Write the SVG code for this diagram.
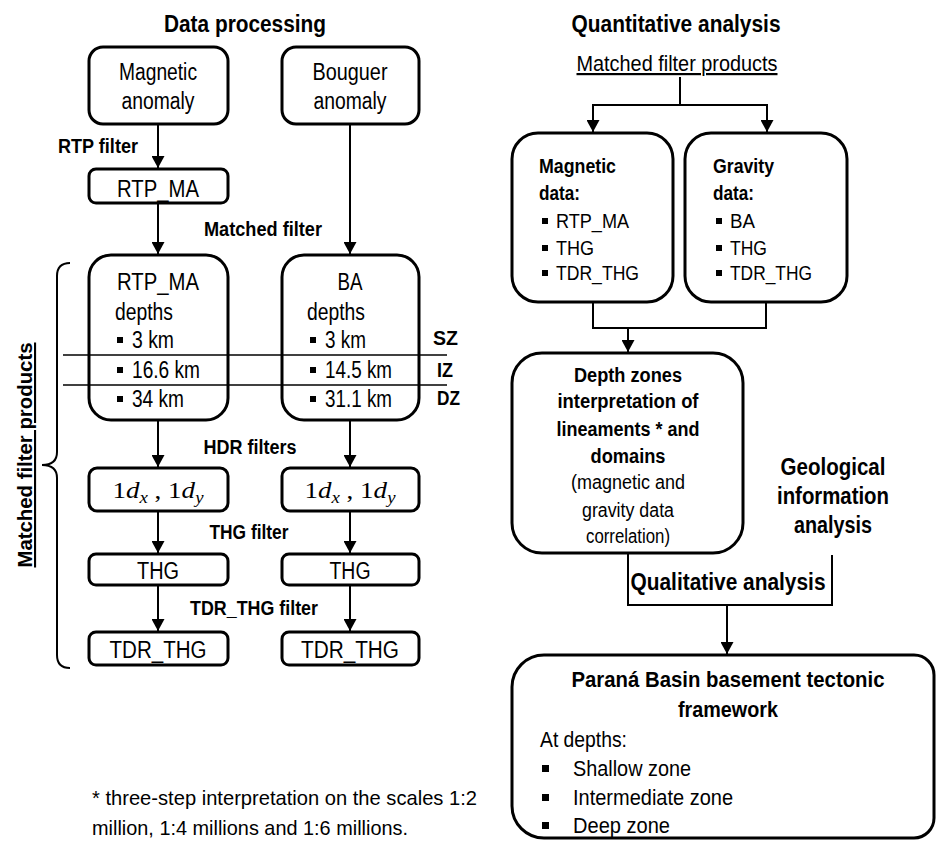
<svg xmlns="http://www.w3.org/2000/svg" xmlns:xlink="http://www.w3.org/1999/xlink" width="936" height="841" viewBox="0 0 936 841">
<defs>
<style>
.box{fill:none;stroke:#000;stroke-width:3}
.con{fill:none;stroke:#000;stroke-width:2}
.zone{fill:none;stroke:#000;stroke-width:1.5}
text{font-family:"Liberation Sans",Arial,sans-serif;fill:#000;font-size:23px}
.b{font-weight:bold}
.m{text-anchor:middle}
.s20{font-size:20px}
.s22{font-size:22px}
.s21{font-size:21px}
.u{text-decoration:underline}
.math{font-family:"Liberation Serif","Times New Roman",serif}
</style>
<marker id="ah" markerUnits="userSpaceOnUse" markerWidth="13" markerHeight="13" refX="12" refY="6.5" orient="auto">
<path d="M0,0 L12,6.5 L0,13 z" fill="#000"/>
</marker>
<rect id="bl" width="6" height="6" fill="#000"/>
<rect id="bl2" width="7" height="7" fill="#000"/>
</defs>
<rect width="936" height="841" fill="#fff"/>

<!-- titles and labels -->
<g id="labels">
<text class="b m" x="245" y="32" textLength="162" lengthAdjust="spacingAndGlyphs">Data processing</text>
<text class="b m" x="676" y="32" textLength="209" lengthAdjust="spacingAndGlyphs">Quantitative analysis</text>
<text class="m s22 u" x="677" y="71" textLength="201" lengthAdjust="spacingAndGlyphs">Matched filter products</text>
<text class="b m s20" x="98" y="153" textLength="80" lengthAdjust="spacingAndGlyphs">RTP filter</text>
<text class="b m s20" x="263" y="236" textLength="118" lengthAdjust="spacingAndGlyphs">Matched filter</text>
<text class="b m s20" x="250" y="454" textLength="93" lengthAdjust="spacingAndGlyphs">HDR filters</text>
<text class="b m s20" x="249" y="539" textLength="79" lengthAdjust="spacingAndGlyphs">THG filter</text>
<text class="b m s20" x="254" y="615" textLength="128" lengthAdjust="spacingAndGlyphs">TDR_THG filter</text>
<text class="b s20" x="433" y="345" textLength="25" lengthAdjust="spacingAndGlyphs">SZ</text>
<text class="b s20" x="437" y="377" textLength="16" lengthAdjust="spacingAndGlyphs">IZ</text>
<text class="b s20" x="437" y="405" textLength="23" lengthAdjust="spacingAndGlyphs">DZ</text>
<text class="b m s21 u" transform="translate(32,455) rotate(-90)" textLength="225" lengthAdjust="spacingAndGlyphs">Matched filter products</text>
<text class="b m" x="833" y="475" textLength="105" lengthAdjust="spacingAndGlyphs">Geological</text>
<text class="b m" x="833" y="504" textLength="112" lengthAdjust="spacingAndGlyphs">information</text>
<text class="b m" x="833" y="533" textLength="78" lengthAdjust="spacingAndGlyphs">analysis</text>
<text class="b m" x="728" y="590" textLength="195" lengthAdjust="spacingAndGlyphs">Qualitative analysis</text>
<text class="s21" x="92" y="805" textLength="385" lengthAdjust="spacingAndGlyphs">* three-step interpretation on the scales 1:2</text>
<text class="s21" x="92" y="835" textLength="316" lengthAdjust="spacingAndGlyphs">million, 1:4 millions and 1:6 millions.</text>
</g>

<!-- left column nodes -->
<g id="mag-anomaly">
<rect class="box" x="89" y="47" width="139" height="77" rx="14"/>
<text class="m" x="158" y="80" textLength="78" lengthAdjust="spacingAndGlyphs">Magnetic</text>
<text class="m" x="158" y="109" textLength="73" lengthAdjust="spacingAndGlyphs">anomaly</text>
</g>
<g id="bouguer-anomaly">
<rect class="box" x="282" y="47" width="137" height="77" rx="14"/>
<text class="m" x="350" y="80" textLength="75" lengthAdjust="spacingAndGlyphs">Bouguer</text>
<text class="m" x="350" y="109" textLength="73" lengthAdjust="spacingAndGlyphs">anomaly</text>
</g>
<g id="rtp-ma">
<rect class="box" x="89" y="169" width="139" height="34" rx="7"/>
<text class="m" x="158" y="197" textLength="82" lengthAdjust="spacingAndGlyphs">RTP_MA</text>
</g>
<g id="rtp-depths">
<rect class="box" x="89" y="255" width="139" height="165" rx="22"/>
<text class="m" x="158" y="290" textLength="82" lengthAdjust="spacingAndGlyphs">RTP_MA</text>
<text x="115" y="320" textLength="58" lengthAdjust="spacingAndGlyphs">depths</text>
<use xlink:href="#bl" x="117" y="337"/>
<text x="132" y="348" textLength="42" lengthAdjust="spacingAndGlyphs">3 km</text>
<use xlink:href="#bl" x="117" y="367"/>
<text x="132" y="378" textLength="68" lengthAdjust="spacingAndGlyphs">16.6 km</text>
<use xlink:href="#bl" x="117" y="396"/>
<text x="132" y="407" textLength="52" lengthAdjust="spacingAndGlyphs">34 km</text>
</g>
<g id="ba-depths">
<rect class="box" x="282" y="255" width="137" height="165" rx="22"/>
<text class="m" x="350" y="290" textLength="25" lengthAdjust="spacingAndGlyphs">BA</text>
<text x="307" y="320" textLength="58" lengthAdjust="spacingAndGlyphs">depths</text>
<use xlink:href="#bl" x="310" y="337"/>
<text x="325" y="348" textLength="41" lengthAdjust="spacingAndGlyphs">3 km</text>
<use xlink:href="#bl" x="310" y="367"/>
<text x="325" y="378" textLength="67" lengthAdjust="spacingAndGlyphs">14.5 km</text>
<use xlink:href="#bl" x="310" y="396"/>
<text x="325" y="407" textLength="67" lengthAdjust="spacingAndGlyphs">31.1 km</text>
</g>
<g id="hdr-left">
<rect class="box" x="89" y="468" width="139" height="43" rx="8"/>
<text class="math m" x="158" y="498" textLength="91" lengthAdjust="spacingAndGlyphs">1<tspan font-style="italic">d</tspan><tspan font-style="italic" font-size="16" dy="5">x</tspan><tspan dy="-5"> , 1</tspan><tspan font-style="italic">d</tspan><tspan font-style="italic" font-size="16" dy="5">y</tspan></text>
</g>
<g id="hdr-right">
<rect class="box" x="282" y="468" width="137" height="43" rx="8"/>
<text class="math m" x="350" y="498" textLength="91" lengthAdjust="spacingAndGlyphs">1<tspan font-style="italic">d</tspan><tspan font-style="italic" font-size="16" dy="5">x</tspan><tspan dy="-5"> , 1</tspan><tspan font-style="italic">d</tspan><tspan font-style="italic" font-size="16" dy="5">y</tspan></text>
</g>
<g id="thg-left">
<rect class="box" x="89" y="554" width="139" height="31" rx="7"/>
<text class="m" x="158" y="579" textLength="42" lengthAdjust="spacingAndGlyphs">THG</text>
</g>
<g id="thg-right">
<rect class="box" x="282" y="554" width="137" height="31" rx="7"/>
<text class="m" x="350" y="579" textLength="41" lengthAdjust="spacingAndGlyphs">THG</text>
</g>
<g id="tdr-left">
<rect class="box" x="89" y="632" width="139" height="33" rx="7"/>
<text class="m" x="158" y="658" textLength="97" lengthAdjust="spacingAndGlyphs">TDR_THG</text>
</g>
<g id="tdr-right">
<rect class="box" x="282" y="632" width="137" height="33" rx="7"/>
<text class="m" x="350" y="658" textLength="98" lengthAdjust="spacingAndGlyphs">TDR_THG</text>
</g>

<!-- right column nodes -->
<g id="magnetic-data">
<rect class="box" x="512" y="133" width="161" height="169" rx="26"/>
<text class="b s20" x="539" y="173" textLength="77" lengthAdjust="spacingAndGlyphs">Magnetic</text>
<text class="b s20" x="539" y="200" textLength="41" lengthAdjust="spacingAndGlyphs">data:</text>
<use xlink:href="#bl" x="542" y="218"/>
<text class="s20" x="556" y="228" textLength="73" lengthAdjust="spacingAndGlyphs">RTP_MA</text>
<use xlink:href="#bl" x="542" y="245"/>
<text class="s20" x="556" y="255" textLength="38" lengthAdjust="spacingAndGlyphs">THG</text>
<use xlink:href="#bl" x="542" y="270"/>
<text class="s20" x="556" y="280" textLength="83" lengthAdjust="spacingAndGlyphs">TDR_THG</text>
</g>
<g id="gravity-data">
<rect class="box" x="685" y="133" width="162" height="169" rx="26"/>
<text class="b s20" x="713" y="173" textLength="61" lengthAdjust="spacingAndGlyphs">Gravity</text>
<text class="b s20" x="713" y="200" textLength="41" lengthAdjust="spacingAndGlyphs">data:</text>
<use xlink:href="#bl" x="716" y="218"/>
<text class="s20" x="730" y="228" textLength="25" lengthAdjust="spacingAndGlyphs">BA</text>
<use xlink:href="#bl" x="716" y="245"/>
<text class="s20" x="730" y="255" textLength="37" lengthAdjust="spacingAndGlyphs">THG</text>
<use xlink:href="#bl" x="716" y="270"/>
<text class="s20" x="730" y="280" textLength="82" lengthAdjust="spacingAndGlyphs">TDR_THG</text>
</g>
<g id="depth-zones">
<rect class="box" x="512" y="353" width="231" height="200" rx="30"/>
<text class="b m s20" x="628" y="382" textLength="108" lengthAdjust="spacingAndGlyphs">Depth zones</text>
<text class="b m s20" x="628" y="408" textLength="141" lengthAdjust="spacingAndGlyphs">interpretation of</text>
<text class="b m s20" x="628" y="436" textLength="143" lengthAdjust="spacingAndGlyphs">lineaments * and</text>
<text class="b m s20" x="628" y="463" textLength="75" lengthAdjust="spacingAndGlyphs">domains</text>
<text class="m s20" x="628" y="489" textLength="114" lengthAdjust="spacingAndGlyphs">(magnetic and</text>
<text class="m s20" x="628" y="517" textLength="92" lengthAdjust="spacingAndGlyphs">gravity data</text>
<text class="m s20" x="628" y="543" textLength="84" lengthAdjust="spacingAndGlyphs">correlation)</text>
</g>
<g id="framework">
<path class="box" d="M544,655 H914 A20,20 0 0 1 934,675 V818 A20,20 0 0 1 914,838 H544 A32,32 0 0 1 512,806 V687 A32,32 0 0 1 544,655 Z"/>
<text class="b m s22" x="728" y="687" textLength="313" lengthAdjust="spacingAndGlyphs">Paraná Basin basement tectonic</text>
<text class="b m s22" x="728" y="717" textLength="100" lengthAdjust="spacingAndGlyphs">framework</text>
<text class="s22" x="540" y="747" textLength="87" lengthAdjust="spacingAndGlyphs">At depths:</text>
<use xlink:href="#bl2" x="542" y="765"/>
<text class="s22" x="573" y="776" textLength="118" lengthAdjust="spacingAndGlyphs">Shallow zone</text>
<use xlink:href="#bl2" x="542" y="794"/>
<text class="s22" x="573" y="805" textLength="160" lengthAdjust="spacingAndGlyphs">Intermediate zone</text>
<use xlink:href="#bl2" x="542" y="822"/>
<text class="s22" x="573" y="833" textLength="97" lengthAdjust="spacingAndGlyphs">Deep zone</text>
</g>

<!-- connectors -->
<g id="connectors">
<path class="con" d="M158,125 V168" marker-end="url(#ah)"/>
<path class="con" d="M158,204 V254" marker-end="url(#ah)"/>
<path class="con" d="M350,125 V254" marker-end="url(#ah)"/>
<path class="con" d="M158,421 V467" marker-end="url(#ah)"/>
<path class="con" d="M350,421 V467" marker-end="url(#ah)"/>
<path class="con" d="M158,512 V553" marker-end="url(#ah)"/>
<path class="con" d="M350,512 V553" marker-end="url(#ah)"/>
<path class="con" d="M158,586 V631" marker-end="url(#ah)"/>
<path class="con" d="M350,586 V631" marker-end="url(#ah)"/>
<path class="zone" d="M63,355 H447"/>
<path class="zone" d="M63,385 H447"/>
<path class="con" d="M70,263 Q57,263 57,276 V452 Q57,465 42,465 Q57,465 57,478 V655 Q57,668 70,668"/>
<path class="con" d="M680,77 V105"/>
<path class="con" d="M593,105 H767"/>
<path class="con" d="M593,104 V132" marker-end="url(#ah)"/>
<path class="con" d="M767,104 V132" marker-end="url(#ah)"/>
<path class="con" d="M593,303 V328 H766 V303"/>
<path class="con" d="M628,328 V352" marker-end="url(#ah)"/>
<path class="con" d="M628,554 V605 H832 V555"/>
<path class="con" d="M727,605 V654" marker-end="url(#ah)"/>
</g>
</svg>
